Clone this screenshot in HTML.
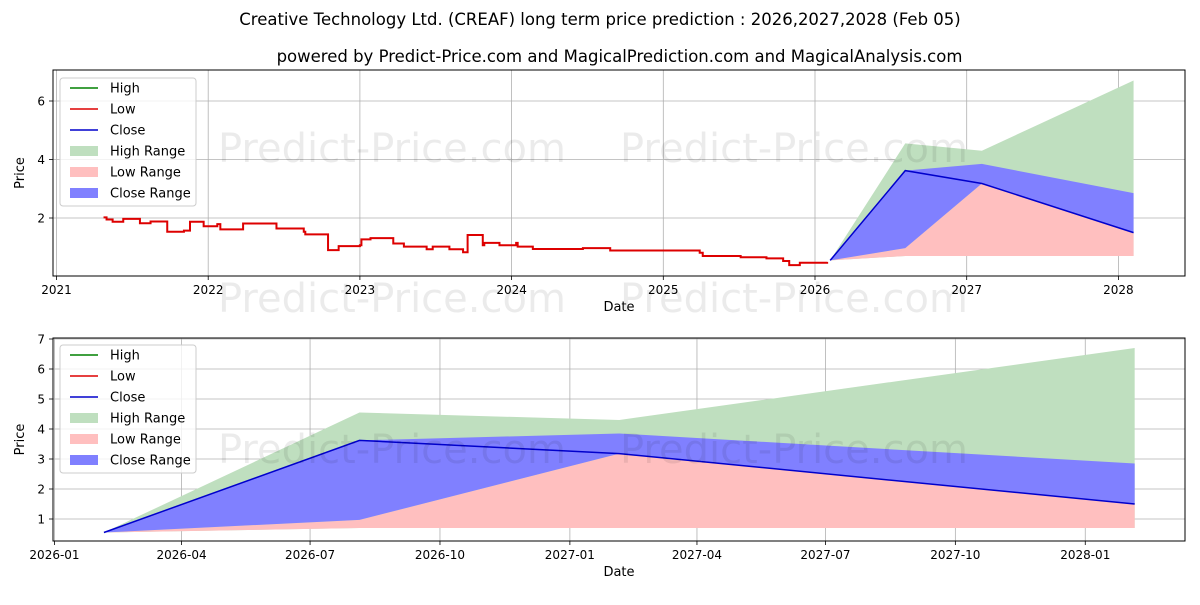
<!DOCTYPE html>
<html><head><meta charset="utf-8"><style>
body{margin:0;background:#fff;width:1200px;height:600px;overflow:hidden}
svg{font-family:"DejaVu Sans","Liberation Sans",sans-serif}
</style></head><body>
<svg id="c" width="1200" height="600" xmlns="http://www.w3.org/2000/svg">
<text x="600" y="25" text-anchor="middle" font-size="16.5">Creative Technology Ltd. (CREAF) long term price prediction : 2026,2027,2028 (Feb 05)</text>
<text x="619.5" y="62" text-anchor="middle" font-size="16.5">powered by Predict-Price.com and MagicalPrediction.com and MagicalAnalysis.com</text>
</svg>
<script>
// historical (decimal year, price)
const histDates=[2021.31,2021.33,2021.37,2021.44,2021.55,2021.62,2021.73,2021.84,2021.88,2021.97,2022.06,2022.08,2022.23,2022.34,2022.45,2022.63,2022.64,2022.78,2022.79,2022.86,2023.00,2023.01,2023.07,2023.20,2023.22,2023.29,2023.44,2023.48,2023.59,2023.68,2023.71,2023.72,2023.81,2023.82,2023.92,2024.03,2024.04,2024.14,2024.47,2024.65,2024.87,2025.24,2025.26,2025.51,2025.68,2025.79,2025.83,2025.90,2026.08];
const histPrices=[2.02,1.95,1.87,1.97,1.82,1.88,1.53,1.57,1.87,1.72,1.79,1.61,1.81,1.81,1.64,1.53,1.44,1.44,0.90,1.04,1.07,1.27,1.31,1.31,1.13,1.02,0.93,1.02,0.93,0.83,1.42,1.42,1.07,1.15,1.07,1.15,1.02,0.94,0.97,0.89,0.89,0.81,0.70,0.66,0.62,0.53,0.39,0.47,0.50];
// prediction
const predDates=[2026.10,2026.595,2027.10,2028.10];
const predDays=[35,216,400,765]; // days since 2026-01-01
const closeVals=[0.55,3.62,3.18,1.50];
const highTop=[0.55,4.55,4.30,6.70];
const closeTop=[0.55,3.62,3.85,2.85];
const closeBot=[0.55,0.97,3.18,1.50];
const lowTop=[0.55,0.97,3.18,1.50];
const lowBot=[0.55,0.70,0.70,0.70];
const topXTicks=[2021,2022,2023,2024,2025,2026,2027,2028];
const topYTicks=[2,4,6];
const botXTicks=["2026-01","2026-04","2026-07","2026-10","2027-01","2027-04","2027-07","2027-10","2028-01"];
const botXTickDays=[0,90,181,273,365,455,546,638,730];
const botYTicks=[1,2,3,4,5,6,7];

const svg=document.getElementById('c');const NS='http://www.w3.org/2000/svg';
function el(t,a,p){const e=document.createElementNS(NS,t);for(const k in a)e.setAttribute(k,a[k]);(p||svg).appendChild(e);return e;}
function txt(s,a,p){const e=el('text',a,p);e.textContent=s;return e;}

function panel(cfg){
  const g=el('g',{});
  
  
  return g;
}
function watermarks(g,wm){
  wm.forEach(w=>{const t=txt('Predict-Price.com',{x:w[0],y:w[1],'font-size':40,fill:'#000','fill-opacity':0.08},g);
    });
}
function axes(cfg){
  const {L,R,T,B,g}=cfg;
  cfg.xt.forEach((v,i)=>{const x=cfg.xs(v);
    const l=el('line',{x1:x,x2:x,y1:T,y2:B,stroke:'#b0b0b0','stroke-width':0.8},g);
    
    el('line',{x1:x,x2:x,y1:B,y2:B+4,stroke:'#000','stroke-width':0.8},g);
    const t=txt(cfg.xl[i],{x:x,y:B+18,'text-anchor':'middle','font-size':12},g);
    });
  cfg.yt.forEach(v=>{const y=cfg.ys(v);
    const l=el('line',{x1:L,x2:R,y1:y,y2:y,stroke:'#b0b0b0','stroke-width':0.8},g);
    
    el('line',{x1:L-4,x2:L,y1:y,y2:y,stroke:'#000','stroke-width':0.8},g);
    const t=txt(String(v),{x:L-8,y:y+4.5,'text-anchor':'end','font-size':12},g);
    });
}
function frame(cfg){
  const {L,R,T,B,g}=cfg;
  el('rect',{x:L,y:T,width:R-L,height:B-T,fill:'none',stroke:'#000','stroke-width':1},g);
  const xt=txt('Date',{x:(L+R)/2,y:B+35,'text-anchor':'middle','font-size':13},g);
  
  const yt=txt('Price',{x:0,y:0,'text-anchor':'middle','font-size':13,transform:`translate(${L-29},${(T+B)/2}) rotate(-90)`},g);
  
}
function band(g,xsArr,top,bot,ys,color,name){
  let d='';xsArr.forEach((x,i)=>{d+=(i?'L':'M')+x+','+ys(top[i]);});
  for(let i=xsArr.length-1;i>=0;i--)d+='L'+xsArr[i]+','+ys(bot[i]);
  const p=el('path',{d:d+'Z',fill:color},g);
  
}
function line(g,xsArr,vals,ys,color,name,w){
  const p=el('polyline',{points:xsArr.map((x,i)=>x+','+ys(vals[i])).join(' '),fill:'none',stroke:color,'stroke-width':w||1.5},g);
  
}
function legend(g,x,y){
  const lg=el('g',{},g);
  
  el('rect',{x:x,y:y,width:136,height:128,rx:3,fill:'#fff','fill-opacity':0.8,stroke:'#ccc'},lg);
  const items=[['High','line','green'],['Low','line','#dd0000'],['Close','line','#0000cc'],['High Range','box','#bfdfbf'],['Low Range','box','#ffbfbf'],['Close Range','box','#8080ff']];
  items.forEach((it,i)=>{const cy=y+10+i*21;
    const eg=el('g',{},lg);
    
    if(it[1]=='line')el('line',{x1:x+10,x2:x+38,y1:cy,y2:cy,stroke:it[2],'stroke-width':1.5},eg);
    else el('rect',{x:x+10,y:cy-5,width:28,height:10,fill:it[2]},eg);
    txt(it[0],{x:x+50,y:cy+4.5,'font-size':13},eg);});
}
function bands(g,px,ys){
  band(g,px,highTop,lowBot,ys,'#bfdfbf','high-range-band');
  band(g,px,lowTop,lowBot,ys,'#ffbfbf','low-range-band');
  band(g,px,closeTop,closeBot,ys,'#8080ff','close-range-band');
}

// top panel
{const L=53,R=1185,T=70,B=276;
 const xs=v=>56.5+(v-2021)*151.7, ys=v=>276.5-v*29.25;
 const g=panel({name:'top-price-chart'});
 const c={L,R,T,B,g,xs,ys,xt:topXTicks,xl:topXTicks.map(String),yt:topYTicks};
 axes(c);
 const px=predDates.map(xs);
 bands(g,px,ys);
 let pts=[];histDates.forEach((d,i)=>{if(i)pts.push(xs(d)+','+ys(histPrices[i-1]));pts.push(xs(d)+','+ys(histPrices[i]));});
 const h=el('polyline',{points:pts.join(' '),fill:'none',stroke:'#dd0000','stroke-width':2},g);
 
 line(g,px,closeVals,ys,'#0000cc','close-line');
 watermarks(g,[[218,162],[620,162],[218,312],[620,312]]);
 frame(c);legend(g,60,78);}
// bottom panel
{const L=53,R=1185,T=338,B=541;
 const xs=d=>54.5+d*1.412, ys=v=>549-v*30;
 const g=panel({name:'bottom-prediction-chart'});
 const c={L,R,T,B,g,xs,ys,xt:botXTickDays,xl:botXTicks,yt:botYTicks};
 axes(c);
 const px=predDays.map(xs);
 bands(g,px,ys);
 line(g,px,closeVals,ys,'#0000cc','close-line');
 watermarks(g,[[218,463],[620,463]]);
 frame(c);legend(g,60,345);}
</script>
</body></html>
